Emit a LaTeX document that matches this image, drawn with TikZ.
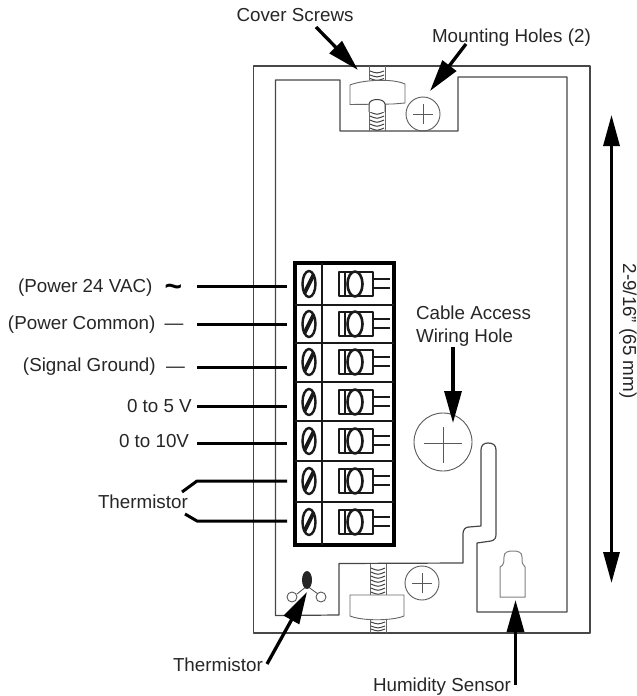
\documentclass[tikz,border=0pt]{standalone}
\usepackage{fontspec}
\setmainfont{Liberation Sans}
\usetikzlibrary{arrows.meta}
\tikzset{
  x=1pt,y=-1pt,
  lbl/.style={inner sep=0pt,outer sep=0pt,anchor=base west,text=black!85,font=\fontsize{18.8}{20}\selectfont},
  encl/.style={draw=black!72,line width=1.2pt,line join=round},
  thin part/.style={draw=black!60,line width=.9pt},
  thread/.style={draw=black!75,line width=1pt},
  lead/.style={draw=black,line width=3pt},
  callout/.style={draw=black,line width=3.3pt,-{Triangle[length=32pt,width=17pt]}},
  dimline/.style={draw=black,line width=3.2pt,{Triangle[length=31pt,width=16pt]}-{Triangle[length=31pt,width=16pt]}},
  blockline/.style={draw=black!90,line width=2.6pt,line join=round}
}
\begin{document}
\begin{tikzpicture}
\useasboundingbox (0,0) rectangle (637,696);
% enclosure
\draw[encl] (253.5,66) rectangle (590,633);
\draw[encl] (275.5,615.5) -- (275.5,80) -- (340,80) -- (340,131) -- (458,131) -- (458,77) -- (567,77) -- (567,612) -- (477,612) -- (477,543)
  -- (491,541) .. controls (495,540) and (496,538) .. (496,534) -- (496,450) .. controls (496,445) and (493,443) .. (488,443) .. controls (484,443) and (481,445) .. (481,450) -- (481,526) -- (469,527) .. controls (465,527) and (463,530) .. (463,534)
  -- (463,563) -- (339,563.5) -- (339,615) -- cycle;
% top cover screw
\draw[thin part] (369,66) -- (369,80) (385,66) -- (385,80) (369,104) -- (369,131) (385,104) -- (385,131);
\foreach \ty in {71,75,78.5}{\draw[thread] (370,\ty) .. controls (377,\ty+2.5) .. (384,\ty);}
\foreach \ty in {108,112,116,120,124,128}{\draw[thread] (370,\ty) .. controls (377,\ty+3) .. (384,\ty);}
\draw[thin part,fill=white] (350,85) .. controls (362,80) and (392,78) .. (405,84) -- (405,103) -- (393,104) -- (350,104.5) -- cycle;
\draw[thread,fill=white] (369,112) -- (369,104) .. controls (370,98) and (384,98) .. (385,104) -- (385,112);
% bottom cover screw
\draw[thin part] (370,564) -- (370,597) (386,564) -- (386,597) (370,620) -- (370,633) (386,620) -- (386,633);
\foreach \ty in {568,572,576,580,584,588,592}{\draw[thread] (371,\ty) .. controls (378,\ty+3) .. (385,\ty);}
\foreach \ty in {622,626,629}{\draw[thread] (371,\ty) .. controls (378,\ty+2.5) .. (385,\ty);}
\draw[thin part,fill=white] (350,595) -- (404,595) -- (404,616) .. controls (392,621) and (362,621) .. (350,616) -- cycle;
% holes
\node[circle,draw=black!65,line width=.9pt,minimum size=34pt,inner sep=0pt] (holetop) at (423,114) {};
\draw[black!65,line width=.8pt] (413,114) -- (433,114) (423,104) -- (423,124);
\node[circle,draw=black!65,line width=.9pt,minimum size=34pt,inner sep=0pt] (holebot) at (422,583) {};
\draw[black!65,line width=.8pt] (412,583) -- (432,583) (422,573) -- (422,593);
\node[circle,draw=black!65,line width=.9pt,minimum size=58pt,inner sep=0pt] (holebig) at (443,442) {};
\draw[black!65,line width=.8pt] (424,443) -- (462,443) (443,427) -- (443,463);
% humidity sensor
\draw[draw=black!50,line width=1pt] (500,597) -- (500,567) .. controls (504,565) and (504,562) .. (504,557) .. controls (504,552) and (508,551) .. (513,551) .. controls (518,551) and (522,552) .. (522,557) .. controls (522,562) and (522,565) .. (525,567) -- (525,597) -- cycle;
% thermistor
\draw[black!65,line width=.9pt] (292,597) circle[radius=5pt] (321,597) circle[radius=5pt] (297,594) -- (307,586) -- (318,594);
\fill[black!85] (307,580) ellipse[x radius=5pt,y radius=9pt];
% terminal block
\draw[draw=black,line width=3.2pt] (295,263) rectangle (394,545);
\draw[blockline] (322,263) -- (322,545);
\foreach \dy in {305,343,382,421,461,502}{\draw[blockline] (295,\dy) -- (394,\dy);}
\foreach \cy in {284,324,362,402,441,481,522}{
  \draw[draw=black!90,line width=2.4pt] (309,\cy) ellipse[x radius=6.5pt,y radius=13pt];
  \draw[draw=black!90,line width=4pt] (304.5,\cy+9) -- (313.5,\cy-9);
  \draw[blockline] (373,\cy-12) -- (339,\cy-12) -- (339,\cy+12) -- (373,\cy+12) -- cycle;
  \draw[blockline] (345,\cy-12) -- (345,\cy+12);
  \draw[blockline,fill=white] (355,\cy) ellipse[x radius=7.5pt,y radius=12.5pt];
  \draw[blockline] (373,\cy-5) -- (390,\cy-5) (373,\cy+4) -- (390,\cy+4);
}
% terminal anchors
\foreach \n/\ty in {a/286,b/324,c/367,d/406,e/443,f/481,g/521}{\coordinate (t\n) at (287,\ty);}
\coordinate (sa) at (197,286);
\coordinate (sb) at (197,324);
\coordinate (sc) at (197,367);
\coordinate (sd) at (197,406);
\coordinate (se) at (197,443);
\coordinate (bf) at (197,481);
\coordinate (bg) at (197,521);
\coordinate (sf) at (182,492);
\coordinate (sg) at (185,514);
\draw[lead] (sa) -- (ta);
\draw[lead] (sb) -- (tb);
\draw[lead] (sc) -- (tc);
\draw[lead] (sd) -- (td);
\draw[lead] (se) -- (te);
\draw[lead,line join=round] (sf) -- (bf) -- (tf);
\draw[lead,line join=round] (sg) -- (bg) -- (tg);
% labels
\node[lbl] (cover) at (236.5,21) {Cover Screws};
\node[lbl] (mount) at (432,42) {Mounting Holes (2)};
\node[lbl] (pwr) at (18,292) {(Power 24 VAC)};
\node[inner sep=0pt,text=black,font=\fontsize{30}{30}\selectfont\bfseries] (tilde) at (173.5,290) {\char`\~};
\node[lbl] (com) at (8,329) {(Power Common)};
\node[lbl] (comd) at (164.5,329) {—};
\node[lbl] (sig) at (23,371) {(Signal Ground)};
\node[lbl] (sigd) at (166,372) {—};
\node[lbl] (five) at (127,412) {0 to 5 V};
\node[lbl] (ten) at (119,447) {0 to 10V};
\node[lbl] (thl) at (98,508) {Thermistor};
\node[lbl] (thb) at (173,671) {Thermistor};
\node[lbl] (hum) at (373,691) {Humidity Sensor};
\node[lbl] (cab) at (416,319) {Cable Access};
\node[lbl] (wir) at (416,342) {Wiring Hole};
\node[inner sep=0pt,rotate=-90,text=black!85,font=\fontsize{18.8}{20}\selectfont] (dimtxt) at (628,331) {2-9/16” (65 mm)};
% callouts
\coordinate (c1s) at (316,27); \coordinate (c1t) at (358,70);
\coordinate (c2s) at (466,44); \coordinate (c2t) at (430,91);
\coordinate (c3s) at (453,347); \coordinate (c3t) at (453,423);
\coordinate (c4s) at (267,664); \coordinate (c4t) at (307,592);
\coordinate (c5s) at (515.5,685); \coordinate (c5t) at (515.5,600);
\coordinate (d1) at (611.5,115); \coordinate (d2) at (611.5,583);
\draw[callout] (c1s) -- (c1t);
\draw[callout] (c2s) -- (c2t);
\draw[callout] (c3s) -- (c3t);
\draw[callout] (c4s) -- (c4t);
\draw[callout] (c5s) -- (c5t);
\draw[dimline] (d1) -- (d2);
\end{tikzpicture}
\end{document}
